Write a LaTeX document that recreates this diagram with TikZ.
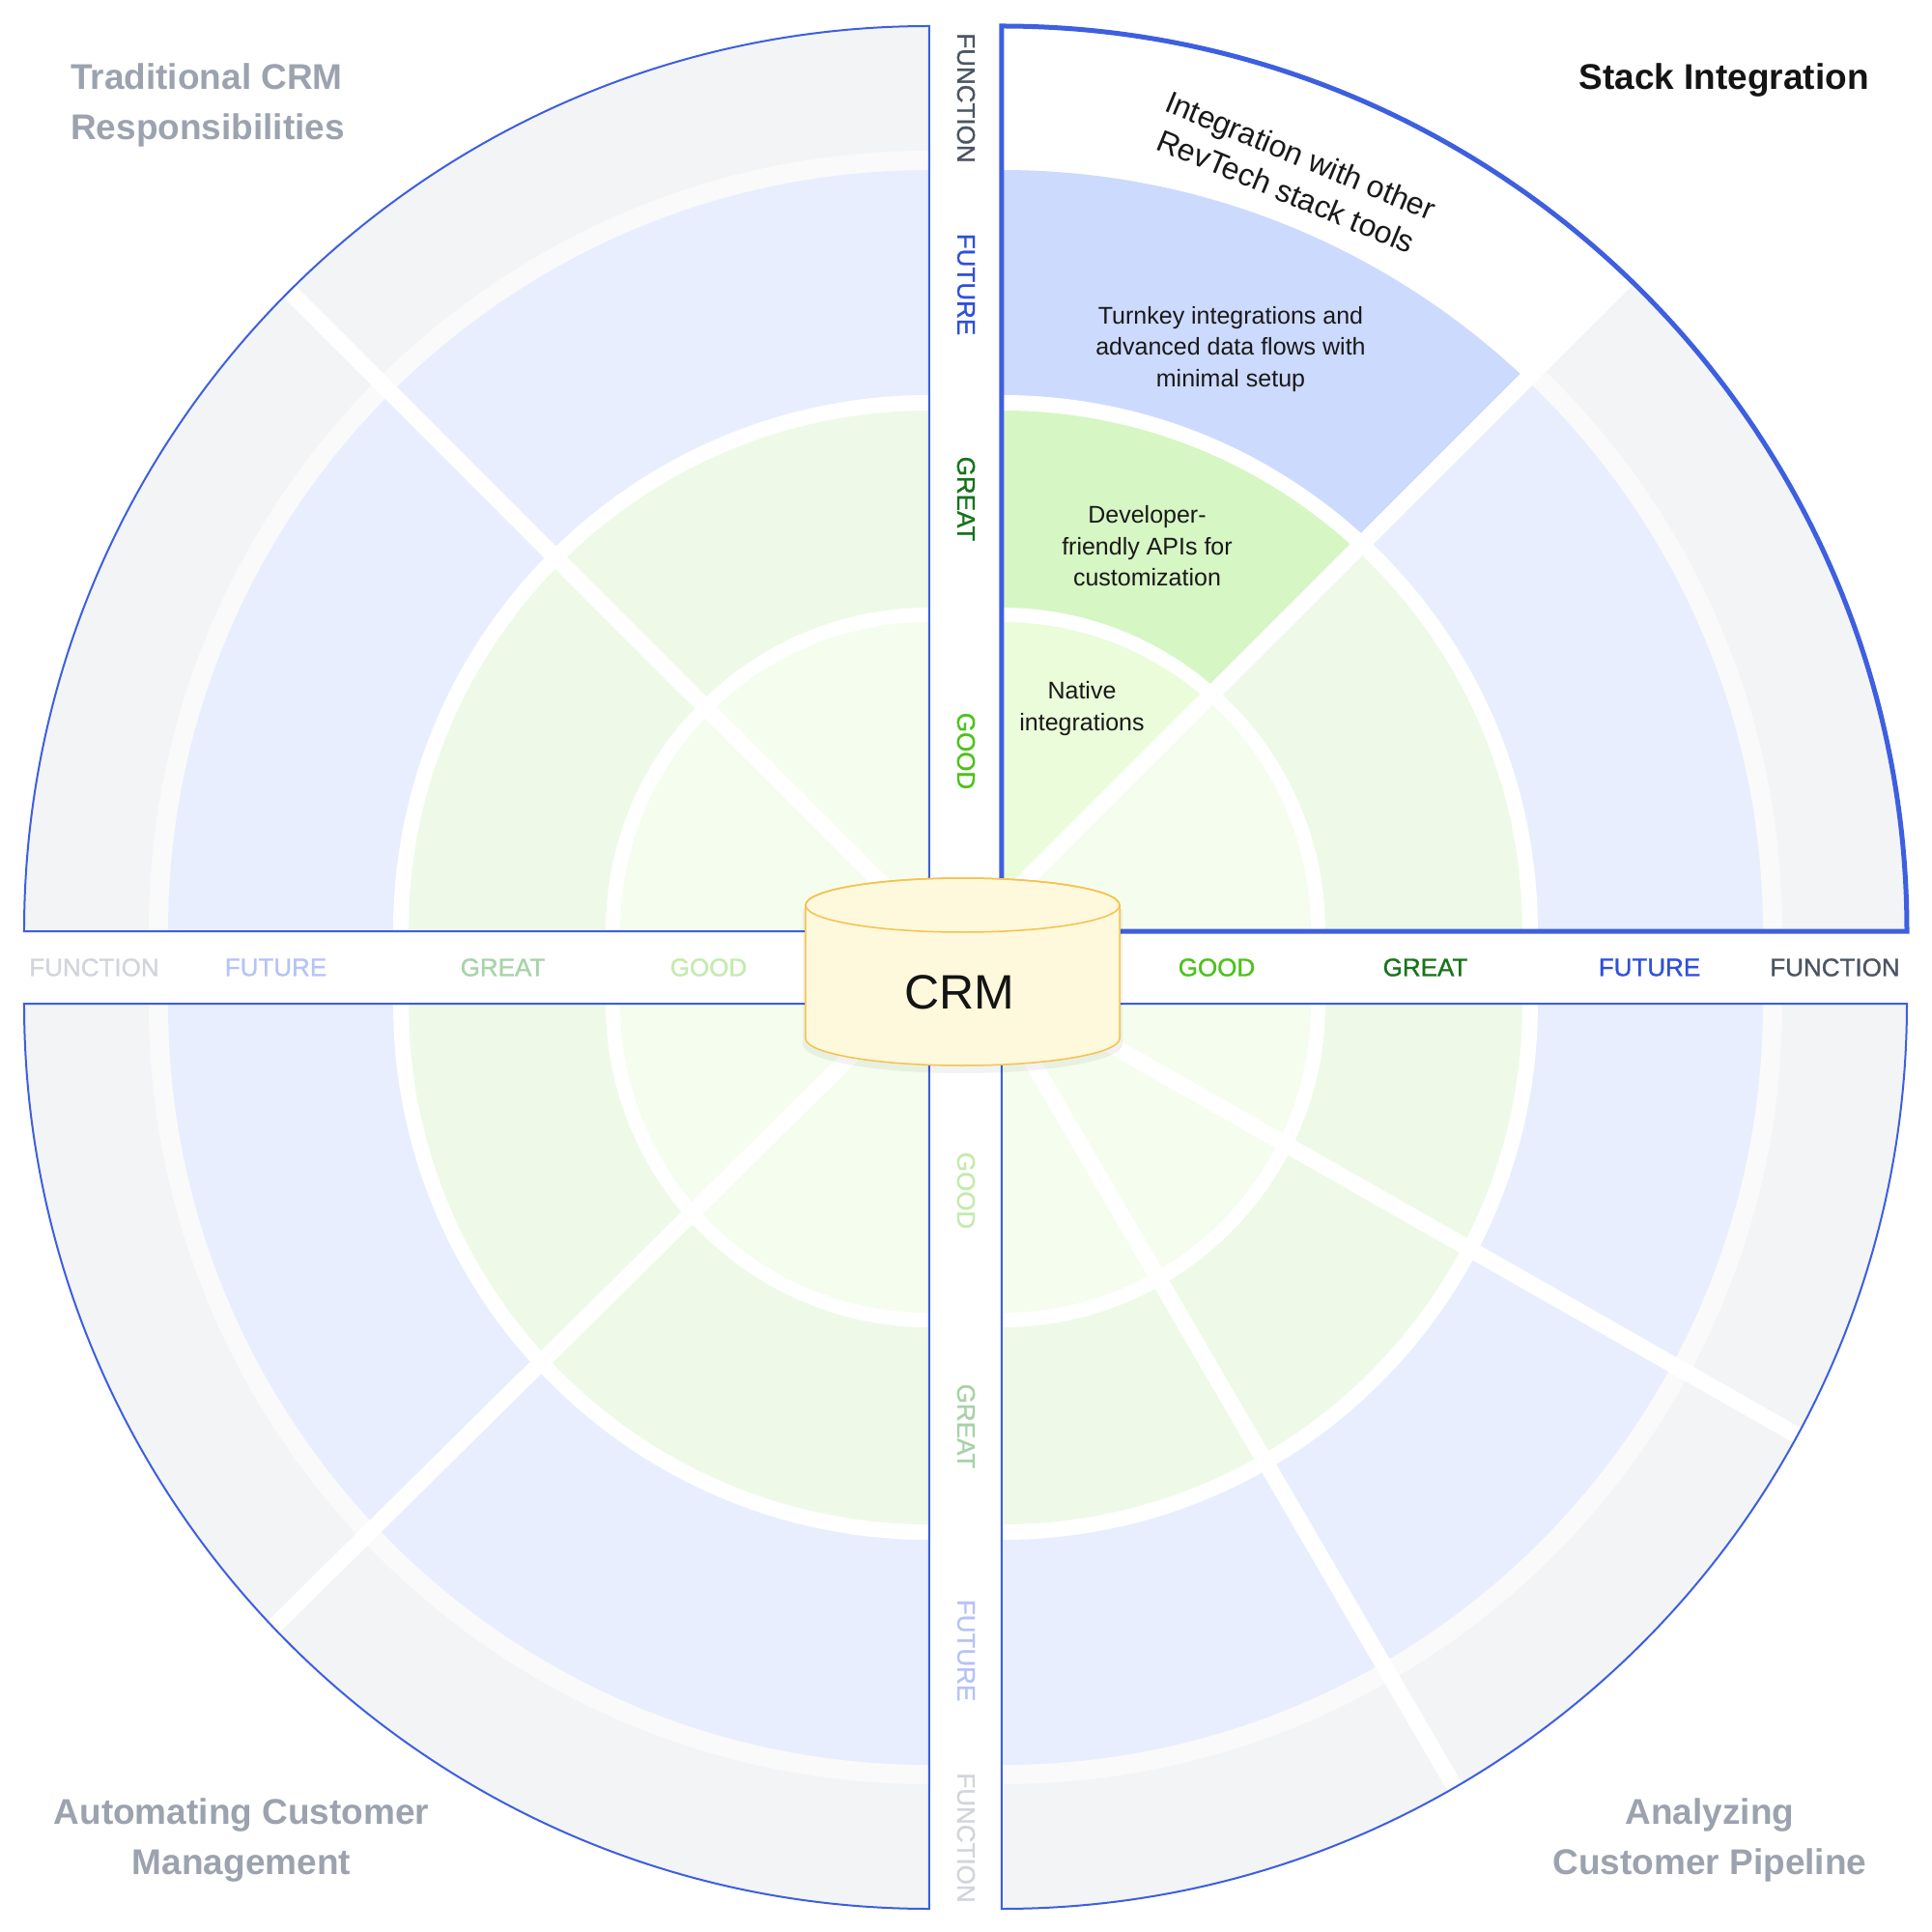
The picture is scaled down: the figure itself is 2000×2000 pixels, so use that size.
\documentclass[tikz,border=0pt]{standalone}
\usepackage{fontspec}
\setmainfont{Liberation Sans}
\newfontfamily\medfont{Liberation Sans}[FakeBold=1.2]
\definecolor{qgray}{HTML}{F3F4F6}
\definecolor{qstripe}{HTML}{FAFAFA}
\definecolor{qblue}{HTML}{E8EEFD}
\definecolor{qgreen}{HTML}{EEFAE7}
\definecolor{qgood}{HTML}{F5FDEE}
\definecolor{hblue}{HTML}{CCDAFD}
\definecolor{hgreen}{HTML}{D6F6C4}
\definecolor{hgood}{HTML}{EAFCD9}
\definecolor{qborder}{HTML}{3D5FE0}
\definecolor{fncF}{HTML}{4B5563}
\definecolor{fncL}{HTML}{D1D5DB}
\definecolor{futF}{HTML}{2F50DA}
\definecolor{futL}{HTML}{B6C3F6}
\definecolor{grtF}{HTML}{17731B}
\definecolor{grtL}{HTML}{A7D2A7}
\definecolor{gdF}{HTML}{4CC21A}
\definecolor{gdL}{HTML}{C3EAAD}
\definecolor{titlegray}{HTML}{9CA3AF}
\definecolor{cylfill}{HTML}{FEF8DC}
\definecolor{cyledge}{HTML}{F5C24E}
\newcommand\qbands[3]{%
  \begin{scope}
    \clip (#1,#2) -- ++(#3:937) arc[start angle=#3, end angle=#3+90, radius=937] -- cycle;
    \fill[qgray] (#1,#2) circle[radius=937];
    \fill[qstripe] (#1,#2) circle[radius=808];
    \fill[qblue] (#1,#2) circle[radius=788];
    \fill[white] (#1,#2) circle[radius=555];
    \fill[qgreen] (#1,#2) circle[radius=539];
    \fill[white] (#1,#2) circle[radius=335];
    \fill[qgood] (#1,#2) circle[radius=320];
  \end{scope}}
\newcommand\qclip[3]{\clip (#1,#2) -- ++(#3:937) arc[start angle=#3, end angle=#3+90, radius=937] -- cycle;}
\newcommand\qborder[4]{\draw[qborder, line width=#4, line join=miter] (#1,#2) -- ++(#3:937) arc[start angle=#3, end angle=#3+90, radius=937] -- cycle;}
\tikzset{
  divider/.style={white, line width=17},
  axlab/.style={font=\medfont\fontsize{26}{30}\selectfont, inner sep=0pt, anchor=center},
  vlab/.style={axlab, rotate=-90},
  cornertitle/.style={font=\bfseries\fontsize{37}{52}\selectfont, inner sep=0pt},
  celltext/.style={font=\fontsize{25}{32.5}\selectfont, align=center, inner sep=0pt, text=black!90},
}
\begin{document}
\begin{tikzpicture}[x=1pt, y=1pt]
\useasboundingbox (-999.5,-998.5) rectangle (1000.5,1001.5);
% bands
\qbands{-37.5}{37.5}{90}
\qbands{37.5}{37.5}{0}
\qbands{-37.5}{-37.5}{180}
\qbands{37.5}{-37.5}{270}
% highlighted sector of Stack Integration (bounded by the divider)
\begin{scope}
  \clip (37.5,65.5) -- (1100,1128) -- (37.5,1128) -- cycle;
  \clip (37.5,37.5) -- ++(0:937) arc[start angle=0, end angle=90, radius=937] -- cycle;
  \fill[white] (37.5,37.5) circle[radius=937];
  \fill[hblue] (37.5,37.5) circle[radius=788];
  \fill[white] (37.5,37.5) circle[radius=555];
  \fill[hgreen] (37.5,37.5) circle[radius=539];
  \fill[white] (37.5,37.5) circle[radius=335];
  \fill[hgood] (37.5,37.5) circle[radius=320];
\end{scope}
% divider lines
\coordinate (oTL) at (0,0);
\coordinate (dTL) at (-1100,1100);
\coordinate (oTR) at (0,28);
\coordinate (dTR) at (1100,1128);
\coordinate (oBL) at (0,25.6);
\coordinate (dBL) at (-800,-765.4);
\coordinate (oBRa) at (0,5.5);
\coordinate (dBRa) at (1100,-620.5);
\coordinate (oBRb) at (0,21);
\coordinate (dBRb) at (600,-1009);
\begin{scope}\qclip{-37.5}{37.5}{90}\draw[divider] (oTL) -- (dTL);\end{scope}
\begin{scope}\qclip{37.5}{37.5}{0}\draw[divider] (oTR) -- (dTR);\end{scope}
\begin{scope}\qclip{-37.5}{-37.5}{180}\draw[divider] (oBL) -- (dBL);\end{scope}
\begin{scope}\qclip{37.5}{-37.5}{270}\draw[divider] (oBRa) -- (dBRa); \draw[divider] (oBRb) -- (dBRb);\end{scope}
% borders
\qborder{-37.5}{37.5}{90}{2}
\qborder{-37.5}{-37.5}{180}{2}
\qborder{37.5}{-37.5}{270}{2}
\qborder{37.5}{37.5}{0}{5}
% horizontal axis labels
\node[axlab, text=fncL] (hlF) at (-902,0) {FUNCTION};
\node[axlab, text=futL] (hlU) at (-714,0) {FUTURE};
\node[axlab, text=grtL] (hlR) at (-479,0) {GREAT};
\node[axlab, text=gdL] (hlG) at (-266,0) {GOOD};
\node[axlab, text=gdF] (hrG) at (260,0) {GOOD};
\node[axlab, text=grtF] (hrR) at (476,0) {GREAT};
\node[axlab, text=futF] (hrU) at (708,0) {FUTURE};
\node[axlab, text=fncF] (hrF) at (900,0) {FUNCTION};
% vertical axis labels
\node[vlab, text=fncF] (vtF) at (0.5,900) {FUNCTION};
\node[vlab, text=futF] (vtU) at (0.5,707) {FUTURE};
\node[vlab, text=grtF] (vtR) at (0.5,485) {GREAT};
\node[vlab, text=gdF] (vtG) at (0.5,224) {GOOD};
\node[vlab, text=gdL] (vbG) at (0.5,-231) {GOOD};
\node[vlab, text=grtL] (vbR) at (0.5,-475) {GREAT};
\node[vlab, text=futL] (vbU) at (0.5,-707) {FUTURE};
\node[vlab, text=fncL] (vbF) at (0.5,-901) {FUNCTION};
% corner titles
\node[cornertitle, text=titlegray, anchor=west, align=left] (tTL) at (-926.5,892.5) {Traditional CRM\\Responsibilities};
\node[cornertitle, text=black!92, anchor=east] (tTR) at (935.5,918.5) {Stack Integration};
\node[cornertitle, text=titlegray, align=center] (tBL) at (-749.5,-903.5) {Automating Customer\\Management};
\node[cornertitle, text=titlegray, align=center] (tBR) at (770.5,-903.5) {Analyzing\\Customer Pipeline};
% cell texts
\node[font=\fontsize{32}{40}\selectfont, align=center, inner sep=0pt, rotate=-22.5, text=black!90] (cFn) at (339.5,822) {Integration with other\\RevTech stack tools};
\node[celltext] (cFu) at (274.5,640) {Turnkey integrations and\\advanced data flows with\\minimal setup};
\node[celltext] (cGr) at (188,436) {Developer-\\friendly APIs for\\customization};
\node[celltext] (cGo) at (120.5,268) {Native\\integrations};
% CRM cylinder
\fill[black, opacity=0.05] (-168.5,60.5) -- (-168.5,-79.5) arc[start angle=180, end angle=360, x radius=165.5, y radius=30] -- (162.5,60.5) -- cycle;
\filldraw[fill=cylfill, draw=cyledge, line width=1.5] (-165.5,64.5) -- (-165.5,-73.5) arc[start angle=180, end angle=360, x radius=162.5, y radius=28] -- (159.5,64.5) arc[start angle=0, end angle=180, x radius=162.5, y radius=28] -- cycle;
\draw[cyledge, line width=1.5] (-3,64.5) ellipse[x radius=162.5, y radius=28];
\node[font=\fontsize{50}{60}\selectfont, inner sep=0pt, text=black!92] (crm) at (-6.5,-25.5) {CRM};
\end{tikzpicture}
\end{document}
